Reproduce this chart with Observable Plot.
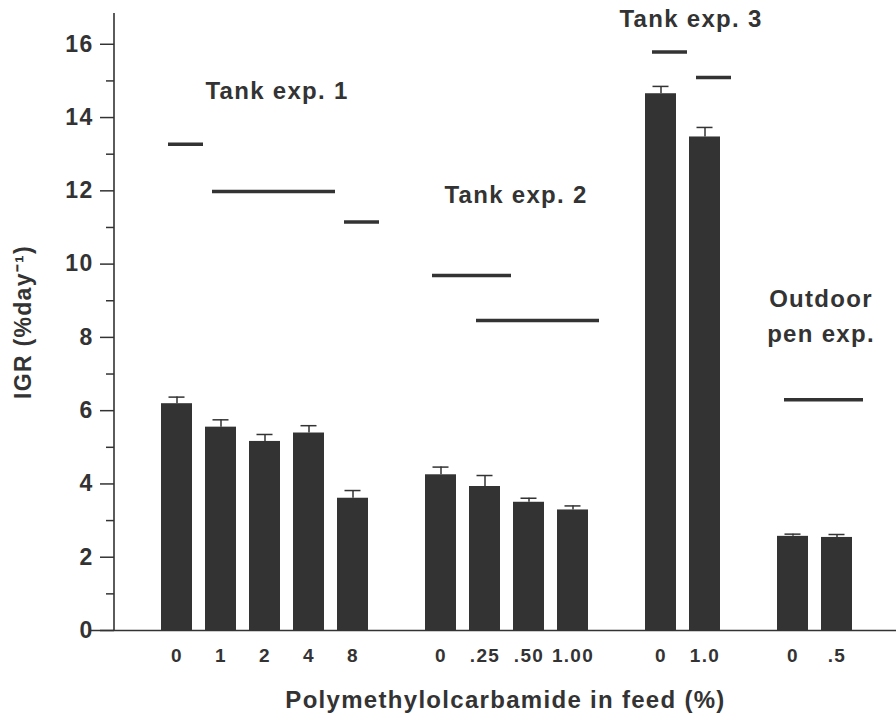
<!DOCTYPE html>
<html><head><meta charset="utf-8">
<script src="https://cdn.jsdelivr.net/npm/d3@7"></script>
<script src="https://cdn.jsdelivr.net/npm/@observablehq/plot@0.6"></script>
<style>
html,body{margin:0;padding:0;background:#fff;}
#chart svg text{letter-spacing:1.3px;}
</style></head><body><div id="chart"></div>
<script>
// Data
const exp1Doses = ["0", "1", "2", "4", "8"];
const exp1IGR   = [6.19, 5.55, 5.16, 5.39, 3.61];
const exp1Upper = [6.37, 5.75, 5.35, 5.59, 3.82];

const exp2Doses = ["0", ".25", ".50", "1.00"];
const exp2IGR   = [4.25, 3.93, 3.50, 3.29];
const exp2Upper = [4.46, 4.23, 3.61, 3.40];

const exp3Doses = ["0", "1.0"];
const exp3IGR   = [14.65, 13.47];
const exp3Upper = [14.85, 13.73];

const penDoses = ["0", ".5"];
const penIGR   = [2.57, 2.54];
const penUpper = [2.63, 2.62];

// horizontal reference lines: y value and first/last treatment covered
const refLines = [
  {y: 13.27, from: "e1:0", to: "e1:0"},
  {y: 11.98, from: "e1:1", to: "e1:4"},
  {y: 11.15, from: "e1:8", to: "e1:8"},
  {y: 9.69,  from: "e2:0", to: "e2:.25"},
  {y: 8.46,  from: "e2:.25", to: "e2:1.00"},
  {y: 15.79, from: "e3:0", to: "e3:0"},
  {y: 15.09, from: "e3:1.0", to: "e3:1.0"},
  {y: 6.30,  from: "e4:0", to: "e4:.5"}
];

const groups = [
  {id: "e1", doses: exp1Doses, igr: exp1IGR, upper: exp1Upper},
  {id: "e2", doses: exp2Doses, igr: exp2IGR, upper: exp2Upper},
  {id: "e3", doses: exp3Doses, igr: exp3IGR, upper: exp3Upper},
  {id: "e4", doses: penDoses, igr: penIGR, upper: penUpper}
];

const rows = [];
const domain = [];
groups.forEach((g, gi) => {
  if (gi > 0) domain.push("gap" + gi);
  g.doses.forEach((d, i) => {
    const key = g.id + ":" + d;
    domain.push(key);
    rows.push({key, dose: d, value: g.igr[i], hi: g.upper[i]});
  });
});

const ink = "#333";
const yTop = 16.84;

const chart = Plot.plot({
  width: 896,
  height: 717,
  marginTop: 13,
  marginBottom: 87,
  marginLeft: 114,
  marginRight: 0,
  style: {fontFamily: "'Liberation Sans', Arial, Helvetica, sans-serif", fontWeight: "bold", color: ink, background: "#fff"},
  x: {type: "band", domain, paddingInner: 0.3, paddingOuter: 1.02, align: 0.52, label: null},
  y: {domain: [0, yTop], label: null},
  marks: [
    Plot.axisY({ticks: d3.range(0, 17, 2), tickSize: 14, tickPadding: 7, fontSize: 23, label: null, stroke: ink, strokeWidth: 1.5}),
    Plot.axisY({ticks: d3.range(1, 16, 2), tickSize: 8, tickFormat: () => "", label: null, stroke: ink, strokeWidth: 1.5}),
    Plot.axisX({ticks: rows.map(d => d.key), tickFormat: k => k.split(":")[1], tickSize: 0, tickPadding: 18, fontSize: 19, label: null}),
    (index, scales, values, dimensions) => {
      const l = d3.create("svg:line")
        .attr("x1", dimensions.marginLeft).attr("x2", dimensions.marginLeft)
        .attr("y1", scales.y(yTop)).attr("y2", scales.y(0))
        .attr("stroke", ink).attr("stroke-width", 1.6);
      return l.node();
    },
    Plot.ruleY([0], {stroke: ink, strokeWidth: 1.6, insetLeft: -25}),
    Plot.barY(rows, {x: "key", y: "value", fill: ink}),
    Plot.ruleX(rows, {x: "key", y1: "value", y2: "hi", stroke: ink, strokeWidth: 1.5}),
    Plot.tickY(rows, {x: "key", y: "hi", stroke: ink, strokeWidth: 1.5, insetLeft: 7.5, insetRight: 7.5}),
    Plot.ruleY(refLines, {y: "y", x1: "from", x2: "to", stroke: ink, strokeWidth: 3.5, dx: 5, insetLeft: 2, insetRight: -6}),
    Plot.text(["Tank exp. 1"], {x: () => "e1:2", y: () => 14.71, dx: 12, fontSize: 24, fill: ink}),
    Plot.text(["Tank exp. 2"], {x: () => "e2:.50", y: () => 11.87, dx: -13, fontSize: 24, fill: ink}),
    Plot.text(["Tank exp. 3"], {x: () => "e3:1.0", y: () => 16.67, dx: -14, fontSize: 24, fill: ink}),
    Plot.text(["Outdoor\npen exp."], {x: () => "e4:.5", y: () => 8.66, dx: -16, fontSize: 24, lineHeight: 1.46, fill: ink}),
    Plot.text(["Polymethylolcarbamide in feed (%)"], {frameAnchor: "bottom", textAnchor: "middle", lineAnchor: "middle", dy: 70, fontSize: 24, fill: ink}),
    Plot.text(["IGR (%day\u207B\u00B9)"], {frameAnchor: "left", textAnchor: "middle", lineAnchor: "middle", dx: -91, rotate: -90, fontSize: 23, fill: ink})
  ]
});
document.getElementById("chart").appendChild(chart);
</script></body></html>
